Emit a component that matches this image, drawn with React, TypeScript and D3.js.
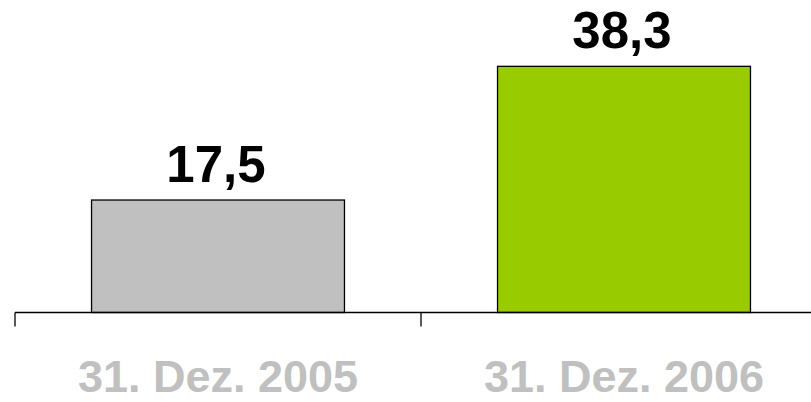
import React from 'react';
import { scaleBand, scaleLinear } from 'd3';

const categories = ['31. Dez. 2005', '31. Dez. 2006'];
const values = [17.5, 38.3];
const valueLabels = ['17,5', '38,3'];
const barColors = ['#c0c0c0', '#99cc00'];

const width = 811;
const height = 402;
const baseline = 312.5;

function App() {
  const x = scaleBand<string>()
    .domain(categories)
    .range([15, 827])
    .paddingInner(0.377)
    .paddingOuter(0.1885);
  const y = scaleLinear().domain([0, 48]).range([baseline, 4]);

  const step = x.step();
  const bw = x.bandwidth();
  // slot boundaries for the tick marks
  const ticks = categories.map((c) => (x(c) as number) - (step * x.paddingInner()) / 2);
  ticks.push(ticks[ticks.length - 1] + step);

  const font = "'Liberation Sans', Arial, sans-serif";

  return (
    <div style={{ position: 'fixed', left: 0, top: 0 }}>
      <svg width={width} height={height} style={{ display: 'block' }}>
        <rect width={width} height={height} fill="#fff" />
        {values.map((v, i) => (
          <rect
            key={categories[i]}
            x={x(categories[i])}
            y={y(v)}
            width={bw}
            height={baseline - y(v)}
            fill={barColors[i]}
            stroke="#000"
            strokeWidth={1.3}
          />
        ))}
        <line x1={ticks[0]} x2={width + 20} y1={baseline} y2={baseline} stroke="#000" strokeWidth={1.3} />
        {ticks.map((t, i) => (
          <line key={i} x1={t} x2={t} y1={baseline} y2={baseline + 14} stroke="#000" strokeWidth={1.3} />
        ))}
        {values.map((v, i) => (
          <text
            key={'v' + i}
            x={(x(categories[i]) as number) + bw / 2 - 2}
            y={y(v) - 18}
            textAnchor="middle"
            fontFamily={font}
            fontWeight="bold"
            fontSize={51}
            fill="#000"
          >
            {valueLabels[i]}
          </text>
        ))}
        {categories.map((c) => (
          <text
            key={c}
            x={(x(c) as number) + bw / 2}
            y={392}
            textAnchor="middle"
            fontFamily={font}
            fontWeight="bold"
            fontSize={45}
            fill="#c0c0c0"
          >
            {c}
          </text>
        ))}
      </svg>
    </div>
  );
}

export default App;
